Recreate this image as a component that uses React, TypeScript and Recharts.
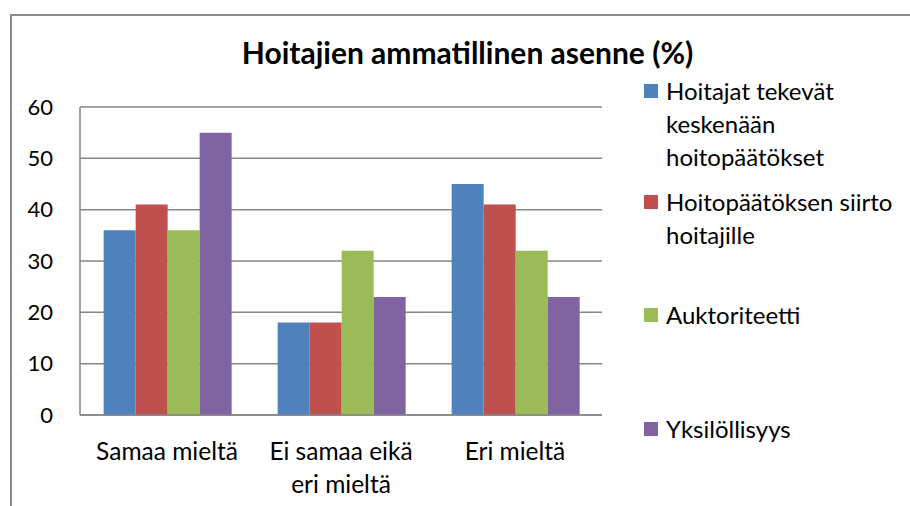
import React from "react";
import { BarChart, Bar, XAxis, YAxis, CartesianGrid, Legend } from "recharts";

const categories = ["Samaa mieltä", "Ei samaa eikä eri mieltä", "Eri mieltä"];
const categoryLines = [["Samaa mieltä"], ["Ei samaa eikä", "eri mieltä"], ["Eri mieltä"]];
const seriesNames = [
  "Hoitajat tekevät keskenään hoitopäätökset",
  "Hoitopäätöksen siirto hoitajille",
  "Auktoriteetti",
  "Yksilöllisyys",
];
const legendLines = [
  ["Hoitajat tekevät", "keskenään", "hoitopäätökset"],
  ["Hoitopäätöksen siirto", "hoitajille"],
  ["Auktoriteetti"],
  ["Yksilöllisyys"],
];
const hoitajatKeskenaan = [36, 18, 45];
const siirtoHoitajille = [41, 18, 41];
const auktoriteetti = [36, 32, 32];
const yksilollisyys = [55, 23, 23];
const yTicks = [0, 10, 20, 30, 40, 50, 60];
const colors = ["#4F81BD", "#C0504D", "#9BBB59", "#8064A2"];
const title = "Hoitajien ammatillinen asenne (%)";

const seriesValues = [hoitajatKeskenaan, siirtoHoitajille, auktoriteetti, yksilollisyys];
const data = categories.map((c, i) => {
  const row: Record<string, any> = { category: c, idx: i };
  seriesNames.forEach((s, k) => {
    row[s] = seriesValues[k][i];
  });
  return row;
});

const FONT = "Lato, 'Open Sans', sans-serif";
const legendTops = [74, 185, 298, 412];

const CategoryTick = (props: any) => {
  const { x, y, payload } = props;
  const lines = categoryLines[payload.index] || [payload.value];
  return (
    <g transform={`translate(${x},${y})`}>
      {lines.map((l: string, i: number) => (
        <text
          key={i}
          x={0}
          y={37 + i * 33}
          textAnchor="middle"
          fontFamily={FONT}
          fontSize={24.5}
          fill="#000"
        >
          {l}
        </text>
      ))}
    </g>
  );
};

const LegendContent = () => (
  <div style={{ position: "relative", width: 266, height: 506 }}>
    {seriesNames.map((s, i) => (
      <div
        key={s}
        style={{
          position: "absolute",
          left: 0,
          top: legendTops[i],
          display: "flex",
          alignItems: "flex-start",
          fontFamily: FONT,
          fontSize: 24,
          lineHeight: "33px",
          color: "#000",
        }}
      >
        <span
          style={{
            display: "inline-block",
            width: 14,
            height: 14,
            background: colors[i],
            marginTop: 10,
            marginRight: 8,
          }}
        />
        <div>
          {legendLines[i].map((l, j) => (
            <div key={j} style={{ whiteSpace: "nowrap" }}>{l}</div>
          ))}
        </div>
      </div>
    ))}
  </div>
);

export default function App() {
  return (
    <div style={{ position: "absolute", left: 0, top: 0, width: 910, height: 506, background: "#fff", overflow: "hidden" }}>
      <div
        style={{
          position: "absolute",
          left: 10,
          top: 14,
          width: 920,
          height: 520,
          border: "2px solid #8a8a8a",
          boxSizing: "border-box",
        }}
      />
      <div
        style={{
          position: "absolute",
          left: 0,
          top: 31,
          width: 935,
          textAlign: "center",
          fontFamily: FONT,
          fontWeight: 700,
          fontSize: 30,
          lineHeight: "42px",
          color: "#000",
        }}
      >
        {title}
      </div>
      <div style={{ position: "absolute", left: 0, top: 0 }}>
        <BarChart
          width={910}
          height={506}
          data={data}
          margin={{ top: 107, right: 42, bottom: 0, left: 0 }}
          barCategoryGap="13.6%"
          barGap={0}
        >
          <CartesianGrid vertical={false} stroke="#868686" strokeWidth={1.5} />
          <XAxis
            dataKey="category"
            height={91}
            axisLine={{ stroke: "#868686", strokeWidth: 1.5 }}
            tickLine={false}
            tick={<CategoryTick />}
            interval={0}
          />
          <YAxis
            width={80}
            domain={[0, 60]}
            ticks={yTicks}
            axisLine={{ stroke: "#868686", strokeWidth: 1.5 }}
            tickLine={false}
            tick={{ fontFamily: FONT, fontSize: 22, fill: "#000", dx: -19 }}
          />
          <Legend
            layout="vertical"
            verticalAlign="top"
            align="right"
            content={<LegendContent />}
            wrapperStyle={{ position: "absolute", left: 644, top: 0, width: 266, height: 506 }}
          />
          {seriesNames.map((s, i) => (
            <Bar key={s} dataKey={s} fill={colors[i]} isAnimationActive={false} />
          ))}
        </BarChart>
      </div>
    </div>
  );
}
